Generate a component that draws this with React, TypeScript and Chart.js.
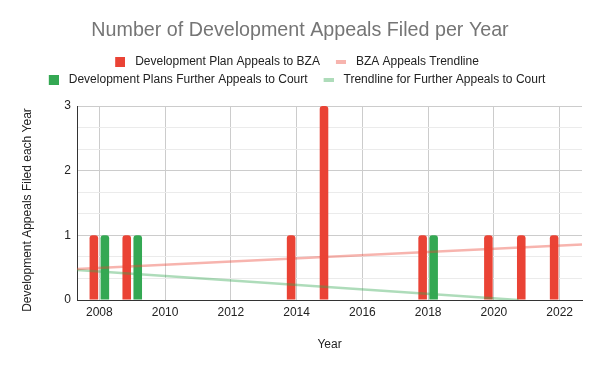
import React, { useEffect, useRef } from 'react';
import { Chart, registerables } from 'chart.js';

Chart.register(...registerables);

// ---- data ----
const years = [2008, 2009, 2014, 2015, 2018, 2020, 2021, 2022];
const bzaAppeals = [1, 1, 1, 3, 1, 1, 1, 1];
const courtYears = [2008, 2009, 2018];
const courtAppeals = [1, 1, 1];
const bzaTrendYears = [2007.32, 2022.68];
const bzaTrendValues = [0.48, 0.86];
const courtTrendYears = [2007.32, 2020.75];
const courtTrendValues = [0.465, 0];
const xTickYears = [2008, 2010, 2012, 2014, 2016, 2018, 2020, 2022];
const yMajorTicks = [0, 1, 2, 3];
const yMinorTicks = [1 / 3, 2 / 3, 4 / 3, 5 / 3, 7 / 3, 8 / 3];
const seriesNames = [
  'Development Plan Appeals to BZA',
  'BZA Appeals Trendline',
  'Development Plans Further Appeals to Court',
  'Trendline for Further Appeals to Court',
];
const chartTitle = 'Number of Development Appeals Filed per Year';
const xTitle = 'Year';
const yTitle = 'Development Appeals Filed each Year';

const RED = '#ea4335';
const GREEN = '#34a853';
const RED_TREND = 'rgba(234,67,53,0.4)';
const GREEN_TREND = 'rgba(52,168,83,0.4)';
const FONT = "'Liberation Sans', Arial, sans-serif";

export default function App() {
  const ref = useRef<HTMLCanvasElement>(null);

  useEffect(() => {
    const canvas = ref.current;
    if (!canvas) return;

    const marker = (color: string, h: number) => {
      const c = document.createElement('canvas');
      c.width = 16;
      c.height = h;
      const g = c.getContext('2d')!;
      g.fillStyle = color;
      g.fillRect(6, 0, 10, h);
      return c;
    };
    const markers = [marker(RED, 10), marker(RED_TREND, 4), marker(GREEN, 10), marker(GREEN_TREND, 4)];

    // Centre the header (title + legend) over the full canvas width,
    // and nudge the y-axis title slightly down as in the reference.
    const layoutTweaks = {
      id: 'layoutTweaks',
      afterLayout(chart: any) {
        const lg = chart.legend;
        if (lg) {
          lg.left += 1;
          lg.right += 1;
          lg.top -= 10;
          lg.bottom -= 10;
        }
        const tb = chart.titleBlock;
        if (tb) {
          tb.left += 9;
          tb.right += 9;
        }
        const ys = chart.scales.y;
        if (ys && !ys.__titlePatched) {
          const orig = ys.drawTitle;
          ys.drawTitle = function (...args: any[]) {
            this.top += 7;
            this.bottom += 7;
            try {
              orig.apply(this, args);
            } finally {
              this.top -= 7;
              this.bottom -= 7;
            }
          };
          ys.__titlePatched = true;
        }
      },
    };

    Chart.defaults.font.family = FONT;
    Chart.defaults.color = '#222222';

    const chart = new Chart(canvas, {
      type: 'bar',
      data: {
        datasets: [
          {
            type: 'bar',
            label: seriesNames[0],
            data: years.map((x, i) => ({ x, y: bzaAppeals[i] })),
            backgroundColor: RED,
            borderRadius: 3,
            categoryPercentage: 0.669,
            barPercentage: 0.78,
            order: 1,
          },
          {
            type: 'line',
            label: seriesNames[1],
            data: bzaTrendYears.map((x, i) => ({ x, y: bzaTrendValues[i] })),
            borderColor: RED_TREND,
            backgroundColor: RED_TREND,
            borderWidth: 2.5,
            pointRadius: 0,
            fill: false,
            tension: 0,
            order: 0,
          },
          {
            type: 'bar',
            label: seriesNames[2],
            data: courtYears.map((x, i) => ({ x, y: courtAppeals[i] })),
            backgroundColor: GREEN,
            borderRadius: 3,
            categoryPercentage: 0.669,
            barPercentage: 0.78,
            order: 1,
          },
          {
            type: 'line',
            label: seriesNames[3],
            data: courtTrendYears.map((x, i) => ({ x, y: courtTrendValues[i] })),
            borderColor: GREEN_TREND,
            backgroundColor: GREEN_TREND,
            borderWidth: 2.5,
            pointRadius: 0,
            fill: false,
            tension: 0,
            order: 0,
          },
        ] as any,
      },
      options: {
        animation: false,
        responsive: false,
        events: [],
        layout: { padding: { left: 0, right: 18, top: 0, bottom: 0 } },
        plugins: {
          title: {
            display: true,
            text: chartTitle,
            color: '#757575',
            font: { size: 19.7, weight: 'normal', family: FONT },
            padding: { top: 19.2, bottom: 17.16 },
          },
          legend: {
            display: true,
            position: 'top',
            labels: {
              usePointStyle: true,
              pointStyleWidth: 24,
              padding: 6,
              color: '#222222',
              font: { size: 12, family: FONT },
              sort: (a: any, b: any) => a.datasetIndex - b.datasetIndex,
              generateLabels: (ch: any) => {
                const items = (Chart.defaults.plugins.legend.labels as any).generateLabels(ch);
                items.forEach((it: any) => {
                  it.pointStyle = markers[it.datasetIndex];
                });
                return items;
              },
            },
          },
          tooltip: { enabled: false },
        },
        scales: {
          x: {
            type: 'linear',
            min: 2007.32,
            max: 2022.68,
            offset: false,
            grid: { offset: false, color: '#cccccc', drawTicks: false },
            border: { color: '#333333' },
            afterBuildTicks: (s: any) => {
              s.ticks = xTickYears.map((v) => ({ value: v }));
            },
            ticks: {
              color: '#222222',
              font: { size: 12 },
              padding: 5,
              autoSkip: false,
              maxRotation: 0,
              callback: (v: any) => String(v),
            },
            title: {
              display: true,
              text: xTitle,
              color: '#222222',
              font: { size: 12 },
              padding: { top: 13.4, bottom: 18.8 },
            },
          },
          y: {
            type: 'linear',
            min: 0,
            max: 3,
            grid: {
              drawTicks: false,
              color: (ctx: any) => {
                const v = ctx.tick ? ctx.tick.value : 0;
                if (Math.abs(v) < 1e-9) return '#333333';
                return Math.abs(v - Math.round(v)) < 1e-9 ? '#cccccc' : '#ebebeb';
              },
            },
            border: { color: '#333333' },
            afterBuildTicks: (s: any) => {
              s.ticks = [...yMajorTicks, ...yMinorTicks].sort((a, b) => a - b).map((v) => ({ value: v }));
            },
            ticks: {
              color: '#222222',
              font: { size: 12 },
              padding: 6,
              autoSkip: false,
              callback: (v: any) => (Math.abs(v - Math.round(v)) < 1e-9 ? String(Math.round(v)) : ''),
            },
            title: {
              display: true,
              text: yTitle,
              color: '#222222',
              font: { size: 12 },
              padding: { top: 20.3, bottom: 23.63 },
            },
          },
        },
      } as any,
      plugins: [layoutTweaks],
    });

    return () => chart.destroy();
  }, []);

  return (
    <div style={{ position: 'absolute', left: 0, top: 0, width: 600, height: 371, background: '#fff' }}>
      <canvas ref={ref} width={600} height={371} style={{ display: 'block' }} />
    </div>
  );
}
